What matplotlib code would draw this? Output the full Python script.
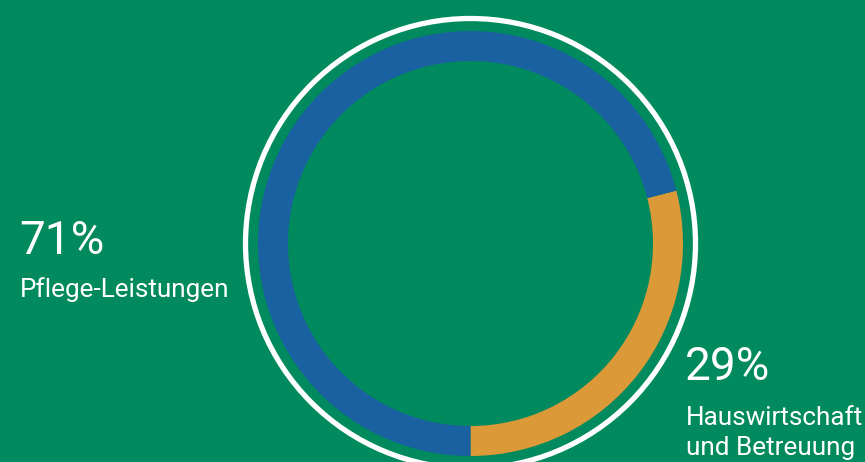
import matplotlib.pyplot as plt
from matplotlib.patches import Circle

# Shares of the two service types
LABELS = ["Hauswirtschaft\nund Betreuung", "Pflege-Leistungen"]
SHARES = [29, 71]
COLORS = ["#DC9937", "#1961A0"]

BG = "#008A5E"
W, H = 865, 462
CX, CY = 470.5, H - 243.5

fig = plt.figure(figsize=(W / 100, H / 100), dpi=100, facecolor=BG)
ax = fig.add_axes([0, 0, 1, 1])
ax.set_facecolor(BG)

# Donut, starting at the bottom and running counter-clockwise
ax.pie(SHARES, colors=COLORS, startangle=270, counterclock=True,
       center=(CX, CY), radius=212.5, frame=True,
       wedgeprops=dict(width=30, linewidth=0))
ax.set_xlim(0, W)
ax.set_ylim(0, H)
ax.set_aspect("equal")
ax.axis("off")

# White outer ring
ax.add_patch(Circle((CX, CY), 225, fill=False, edgecolor="white", linewidth=3.8))

font = dict(family=["Roboto", "DejaVu Sans"], color="white", va="baseline")

ax.text(19, H - 254, f"{SHARES[1]}%", fontsize=33, **font)
ax.text(20, H - 297, LABELS[1], fontsize=18.8, **font)

ax.text(685, H - 380, f"{SHARES[0]}%", fontsize=33, **font)
for i, line in enumerate(LABELS[0].split("\n")):
    ax.text(686, H - 425 - 30 * i, line, fontsize=18.8, **font)

fig.savefig("out.png", dpi=100, facecolor=BG)
